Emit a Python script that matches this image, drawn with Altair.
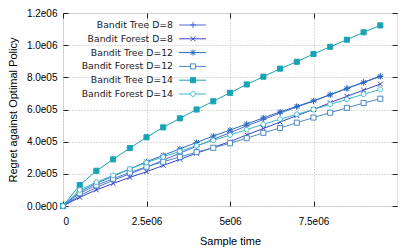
import altair as alt
import pandas as pd

series = ["Bandit Tree D=8", "Bandit Forest D=8", "Bandit Tree D=12",
          "Bandit Forest D=12", "Bandit Tree D=14", "Bandit Forest D=14"]

sample_time = [0, 0.5e6, 1.0e6, 1.5e6, 2.0e6, 2.5e6, 3.0e6, 3.5e6, 4.0e6, 4.5e6,
               5.0e6, 5.5e6, 6.0e6, 6.5e6, 7.0e6, 7.5e6, 8.0e6, 8.5e6, 9.0e6, 9.5e6]

tree_d8 = [0, 6.5e4, 1.15e5, 1.60e5, 2.00e5, 2.40e5, 2.85e5, 3.28e5, 3.72e5, 4.15e5,
           4.56e5, 4.98e5, 5.38e5, 5.78e5, 6.15e5, 6.52e5, 6.92e5, 7.32e5, 7.70e5, 8.08e5]
forest_d8 = [0, 5.4e4, 1.00e5, 1.40e5, 1.78e5, 2.13e5, 2.52e5, 2.90e5, 3.28e5, 3.65e5,
             4.00e5, 4.42e5, 4.82e5, 5.22e5, 5.62e5, 6.00e5, 6.42e5, 6.82e5, 7.20e5, 7.58e5]
tree_d12 = [0, 8.9e4, 1.40e5, 1.85e5, 2.30e5, 2.75e5, 3.15e5, 3.55e5, 3.95e5, 4.35e5,
            4.72e5, 5.10e5, 5.48e5, 5.85e5, 6.20e5, 6.54e5, 6.92e5, 7.30e5, 7.68e5, 8.05e5]
forest_d12 = [0, 7.9e4, 1.28e5, 1.70e5, 2.08e5, 2.44e5, 2.75e5, 3.05e5, 3.35e5, 3.62e5,
              3.90e5, 4.22e5, 4.55e5, 4.85e5, 5.18e5, 5.50e5, 5.80e5, 6.10e5, 6.40e5, 6.67e5]
tree_d14 = [0, 1.30e5, 2.19e5, 2.90e5, 3.60e5, 4.27e5, 4.89e5, 5.45e5, 6.00e5, 6.51e5,
            7.04e5, 7.56e5, 8.04e5, 8.54e5, 8.97e5, 9.45e5, 9.90e5, 1.034e6, 1.080e6, 1.123e6]
forest_d14 = [0, 1.00e5, 1.48e5, 1.90e5, 2.30e5, 2.70e5, 3.05e5, 3.40e5, 3.75e5, 4.08e5,
              4.41e5, 4.75e5, 5.08e5, 5.40e5, 5.70e5, 6.00e5, 6.32e5, 6.63e5, 6.95e5, 7.25e5]

x_ticks = [0, 2.5e6, 5e6, 7.5e6]
y_ticks = [0, 2e5, 4e5, 6e5, 8e5, 1e6, 1.2e6]

colors = ["#4f6bd8", "#3c44c8", "#2a6bbf", "#4c88c8", "#1aa3b3", "#3ab8cc"]
fills = ["transparent", "transparent", "transparent", "white", "#1aa3b3", "white"]

# marker paths
plus = "M-1,0H1M0,-1V1"
cross = "M-0.8,-0.8L0.8,0.8M-0.8,0.8L0.8,-0.8"
star = plus + cross
square = "M-0.85,-0.85H0.85V0.85H-0.85Z"
circle = "M-0.8,0A0.8,0.8 0 1,0 0.8,0A0.8,0.8 0 1,0 -0.8,0"
point_shapes = [plus, cross, star, square, square, circle]

values = [tree_d8, forest_d8, tree_d12, forest_d12, tree_d14, forest_d14]
rows = []
for name, vals in zip(series, values):
    for t, v in zip(sample_time, vals):
        rows.append({"series": name, "t": t, "regret": v})
df = pd.DataFrame(rows)
legend_df = pd.DataFrame({"series": series})

FONT = "DejaVu Sans"
H = 193
W = 334

xscale = alt.Scale(domain=[0, 1e7], nice=False, zero=False)
yscale = alt.Scale(domain=[0, 1.2e6], nice=False)
cscale = alt.Scale(domain=series, range=colors)
shscale = alt.Scale(domain=series, range=point_shapes)
fscale = alt.Scale(domain=series, range=fills)
# legend rows (pixel range of the legend block inside the plot area)
lgscale = alt.Scale(type="point", domain=series, range=[12, 81], padding=0)

base = alt.Chart(df)

lines = base.mark_line(strokeWidth=1).encode(
    x=alt.X("t:Q", scale=xscale, axis=alt.Axis(
        orient="bottom", values=x_ticks, title="Sample time",
        labelExpr="datum.value == 0 ? '0' : replace(format(datum.value, '.2~e'), 'e+', 'e0')",
        grid=True, gridDash=[1, 2], gridColor="#b8b8b8", domain=False,
        tickSize={"expr": "-5"}, tickColor="#222", labelPadding=15,
        titlePadding=9, titleFontWeight="normal")),
    y=alt.Y("regret:Q", scale=yscale, axis=alt.Axis(
        orient="left", values=y_ticks, title="Regret against Optimal Policy",
        labelExpr="replace(format(datum.value, '.1e'), 'e+', 'e0')",
        grid=True, gridDash=[1, 2], gridColor="#b8b8b8", domain=False,
        tickSize={"expr": "-5"}, tickColor="#222", labelPadding=11,
        titlePadding=8, titleFontWeight="normal")),
    color=alt.Color("series:N", scale=cscale, legend=None),
    detail="series:N",
)

points = base.mark_point(size=36, strokeWidth=1, opacity=1).encode(
    x=alt.X("t:Q", scale=xscale, axis=alt.Axis(
        orient="top", values=x_ticks, labels=False, title=None, grid=False,
        domain=False, tickSize={"expr": "-5"}, tickColor="#222")),
    y=alt.Y("regret:Q", scale=yscale, axis=alt.Axis(
        orient="right", values=y_ticks, labels=False, title=None, grid=False,
        domain=False, tickSize={"expr": "-5"}, tickColor="#222")),
    color=alt.Color("series:N", scale=cscale, legend=None),
    shape=alt.Shape("series:N", scale=shscale, legend=None),
    fill=alt.Fill("series:N", scale=fscale, legend=None),
)

lg = alt.Chart(legend_df)
lg_text = lg.mark_text(align="right", baseline="middle", font=FONT, fontSize=9.3,
                       color="#222").encode(
    x=alt.value(110),
    y=alt.Y("series:N", scale=lgscale, axis=None),
    text="series:N",
)
lg_rule = lg.mark_rule(strokeWidth=1).encode(
    x=alt.value(116), x2=alt.value(143),
    y=alt.Y("series:N", scale=lgscale, axis=None),
    color=alt.Color("series:N", scale=cscale, legend=None),
)
lg_pt = lg.mark_point(size=36, strokeWidth=1, opacity=1).encode(
    x=alt.value(130),
    y=alt.Y("series:N", scale=lgscale, axis=None),
    color=alt.Color("series:N", scale=cscale, legend=None),
    shape=alt.Shape("series:N", scale=shscale, legend=None),
    fill=alt.Fill("series:N", scale=fscale, legend=None),
)

chart = alt.layer(lines, points, lg_text, lg_rule, lg_pt).resolve_scale(
    y="independent"
).properties(
    width=W, height=H,
    autosize=alt.AutoSizeParams(type="none"),
    padding={"left": 55, "top": 5, "right": 9, "bottom": 41},
).configure_view(
    stroke="#555", strokeWidth=1
).configure_axis(
    labelFont=FONT, labelFontSize=9, labelColor="#222",
    titleFont=FONT, titleFontSize=9.3, titleColor="#222", titleFontWeight="normal",
).configure(background="white")

chart.save("out.html", embed_options={"renderer": "svg", "actions": False})
